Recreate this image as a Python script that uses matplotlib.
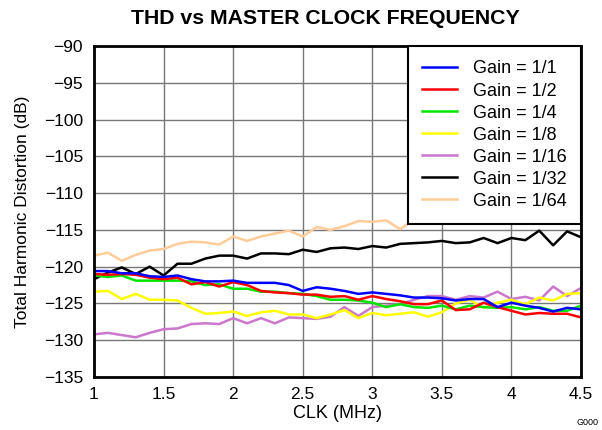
import matplotlib
matplotlib.use("Agg")
import matplotlib.pyplot as plt

plt.rcParams['font.family'] = ['Liberation Sans', 'DejaVu Sans']

# CLK frequency (MHz)
clk = [1.0, 1.1, 1.2, 1.3, 1.4, 1.5, 1.6, 1.7, 1.8, 1.9,
       2.0, 2.1, 2.2, 2.3, 2.4, 2.5, 2.6, 2.7, 2.8, 2.9,
       3.0, 3.1, 3.2, 3.3, 3.4, 3.5, 3.6, 3.7, 3.8, 3.9,
       4.0, 4.1, 4.2, 4.3, 4.4, 4.5]

# THD (dB) for each gain setting
thd_g1 = [-120.6, -120.6, -120.9, -120.9, -121.3, -121.4, -121.2, -121.7, -122.0, -122.0,
          -121.9, -122.2, -122.2, -122.2, -122.5, -123.3, -122.8, -123.0, -123.3, -123.7,
          -123.5, -123.7, -123.9, -124.2, -124.2, -124.3, -124.6, -124.4, -124.4, -125.5,
          -124.9, -125.3, -125.6, -126.1, -125.6, -125.8]
thd_g2 = [-121.0, -121.1, -121.0, -121.1, -121.5, -121.7, -121.5, -122.4, -122.1, -122.7,
          -122.1, -122.5, -123.3, -123.5, -123.6, -123.8, -123.8, -124.1, -124.0, -124.5,
          -124.0, -124.4, -124.7, -125.1, -125.1, -124.6, -125.9, -125.8, -124.9, -125.5,
          -126.0, -126.5, -126.3, -126.4, -126.4, -126.9]
thd_g4 = [-121.2, -121.4, -121.2, -121.9, -121.9, -121.9, -121.9, -122.0, -122.5, -122.4,
          -123.0, -123.0, -123.4, -123.4, -123.6, -123.7, -124.0, -124.5, -124.5, -124.6,
          -124.9, -125.5, -125.1, -125.5, -125.6, -125.3, -125.8, -125.3, -125.5, -125.6,
          -125.5, -125.8, -125.5, -126.0, -126.0, -125.3]
thd_g8 = [-123.4, -123.3, -124.4, -123.7, -124.5, -124.5, -124.6, -125.6, -126.4, -126.3,
          -126.1, -126.7, -126.2, -126.0, -126.5, -126.5, -127.0, -126.5, -125.9, -127.0,
          -126.3, -126.6, -126.4, -126.2, -126.8, -126.2, -125.0, -124.5, -125.6, -124.9,
          -124.5, -125.1, -124.2, -124.6, -123.7, -123.6]
thd_g16 = [-129.2, -129.0, -129.3, -129.6, -129.0, -128.5, -128.4, -127.8, -127.7, -127.8,
           -127.0, -127.7, -127.0, -127.7, -126.9, -127.0, -127.1, -126.8, -125.5, -126.7,
           -125.5, -125.3, -125.1, -124.5, -124.0, -124.0, -124.5, -124.0, -124.2, -123.4,
           -124.4, -124.1, -124.6, -122.7, -124.0, -122.9]
thd_g32 = [-121.7, -120.8, -120.1, -121.0, -120.0, -121.2, -119.6, -119.6, -118.9, -118.5,
           -118.5, -118.9, -118.2, -118.2, -118.3, -117.7, -118.0, -117.5, -117.4, -117.6,
           -117.2, -117.4, -116.9, -116.8, -116.7, -116.5, -116.8, -116.7, -116.1, -116.8,
           -116.1, -116.4, -115.1, -117.1, -115.2, -116.0]
thd_g64 = [-118.5, -118.1, -119.2, -118.4, -117.8, -117.6, -116.9, -116.6, -116.7, -117.0,
           -115.9, -116.5, -115.9, -115.5, -115.1, -115.9, -114.6, -115.0, -114.5, -113.8,
           -113.9, -113.7, -114.9, -113.6, -113.5, -114.2, -113.6, -113.4, -113.2, -113.0,
           -113.3, -112.8, -112.6, -112.9, -112.5, -112.3]

labels = ['Gain = 1/1', 'Gain = 1/2', 'Gain = 1/4', 'Gain = 1/8',
          'Gain = 1/16', 'Gain = 1/32', 'Gain = 1/64']
series = [thd_g1, thd_g2, thd_g4, thd_g8, thd_g16, thd_g32, thd_g64]
colors = ['#0000FF', '#FF0000', '#00E600', '#FFFF00', '#CC77CC', '#000000', '#FFCC99']

fig = plt.figure(figsize=(6.02, 4.30), dpi=100)
ax = fig.add_axes([94/602, 1 - 377/430, (581 - 94)/602, (377 - 46)/430])

n = len(series)
for i, (y, lab, c) in enumerate(zip(series, labels, colors)):
    ax.plot(clk, y, color=c, lw=1.8, label=lab, zorder=3 + n - i)

ax.set_xlim(1, 4.5)
ax.set_ylim(-135, -90)
ax.set_xticks([1, 1.5, 2, 2.5, 3, 3.5, 4, 4.5])
ax.set_xticklabels(['1', '1.5', '2', '2.5', '3', '3.5', '4', '4.5'])
ax.set_yticks(range(-135, -89, 5))
ax.tick_params(length=0, labelsize=12.5)
ax.tick_params(axis='y', pad=8)
ax.tick_params(axis='x', pad=7)
ax.grid(True, color='#777777', lw=1)
for sp in ax.spines.values():
    sp.set_linewidth(2)
    sp.set_zorder(20)

ax.set_xlabel('CLK (MHz)', fontsize=13, labelpad=2)
ax.set_ylabel('Total Harmonic Distortion (dB)', fontsize=12.5, labelpad=10)
fig.suptitle('THD vs MASTER CLOCK FREQUENCY', fontsize=15.3, fontweight='bold',
             x=0.541, y=0.98)

leg = ax.legend(loc='upper right', borderaxespad=0, fontsize=13, fancybox=False,
                framealpha=1, edgecolor='black', handlelength=1.95,
                handletextpad=0.85, labelspacing=0.28, borderpad=0.8)
leg.get_frame().set_linewidth(1.5)
leg.set_zorder(30)

fig.text(0.958, 0.012, 'G000', fontsize=6.5)

fig.savefig('out.png', dpi=100)
